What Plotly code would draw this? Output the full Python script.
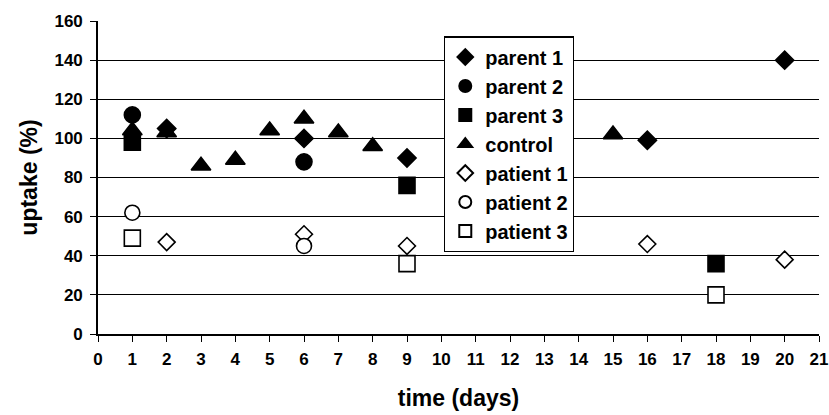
import plotly.graph_objects as go

# ---- data ----
parent1_days = [2, 6, 9, 16, 20]
parent1_vals = [105, 100, 90, 99, 140]
parent2_days = [1, 6]
parent2_vals = [112, 88]
parent3_days = [1, 9, 18]
parent3_vals = [98, 76, 36]
control_days = [1, 2, 3, 4, 5, 6, 7, 8, 15]
control_vals = [104, 103, 86, 89, 104, 110, 103, 96, 102]
patient1_days = [2, 6, 9, 16, 20]
patient1_vals = [47, 51, 45, 46, 38]
patient2_days = [1, 6]
patient2_vals = [62, 45]
patient3_days = [1, 9, 18]
patient3_vals = [49, 36, 20]

x_ticks = list(range(0, 22))
y_ticks = list(range(0, 161, 20))

FONT = "Liberation Sans, Arial, sans-serif"

series = [
    ("parent 1", parent1_days, parent1_vals, "diamond", 14, "black"),
    ("parent 2", parent2_days, parent2_vals, "circle", 16, "black"),
    ("parent 3", parent3_days, parent3_vals, "square", 16, "black"),
    ("control", control_days, control_vals, "triangle-up", 17, "black"),
    ("patient 1", patient1_days, patient1_vals, "diamond", 13, "white"),
    ("patient 2", patient2_days, patient2_vals, "circle", 15, "white"),
    ("patient 3", patient3_days, patient3_vals, "square", 16, "white"),
]

fig = go.Figure()
for i, (name, xs, ys, sym, size, fill) in enumerate(series):
    fig.add_trace(go.Scatter(
        x=xs, y=ys, mode="markers", name=name, legendgroup=f"g{i}",
        marker=dict(symbol=sym, size=size, color=fill,
                    line=dict(color="black", width=1.6)),
    ))

fig.update_layout(
    width=829, height=415,
    margin=dict(l=98, r=10, t=21, b=81),
    paper_bgcolor="white", plot_bgcolor="white",
    font=dict(family=FONT, color="black"),
    showlegend=True,
    legend=dict(
        x=0.48, y=0.951, xanchor="left", yanchor="top",
        bgcolor="white", bordercolor="black", borderwidth=1.2,
        font=dict(family=FONT, size=20, color="black", weight="bold"),
        tracegroupgap=7, traceorder="normal", itemsizing="constant",
        itemwidth=30,
    ),
    xaxis=dict(
        range=[0, 21], tickmode="array", tickvals=x_ticks,
        ticktext=[str(v) for v in x_ticks],
        ticks="outside", ticklen=6, tickwidth=1.3, tickcolor="black",
        showline=True, linecolor="black", linewidth=1.6,
        showgrid=False, zeroline=False, ticklabeloverflow="allow",
        ticklabelstandoff=3, automargin=False,
        tickfont=dict(family=FONT, size=17, color="black", weight="bold"),
        title=dict(text="time (days)", standoff=22,
                   font=dict(family=FONT, size=23, color="black", weight="bold")),
    ),
    yaxis=dict(
        range=[0, 160], tickmode="array", tickvals=y_ticks,
        ticktext=[str(v) for v in y_ticks],
        ticks="outside", ticklen=6, tickwidth=1.3, tickcolor="black",
        showline=True, linecolor="black", linewidth=1.6,
        showgrid=True, gridcolor="black", gridwidth=1.4,
        zeroline=False, ticklabelstandoff=4, automargin=False,
        tickfont=dict(family=FONT, size=17, color="black", weight="bold"),
        title=dict(text="uptake (%)", standoff=10,
                   font=dict(family=FONT, size=23, color="black", weight="bold")),
    ),
)

fig.write_html("out.html")
